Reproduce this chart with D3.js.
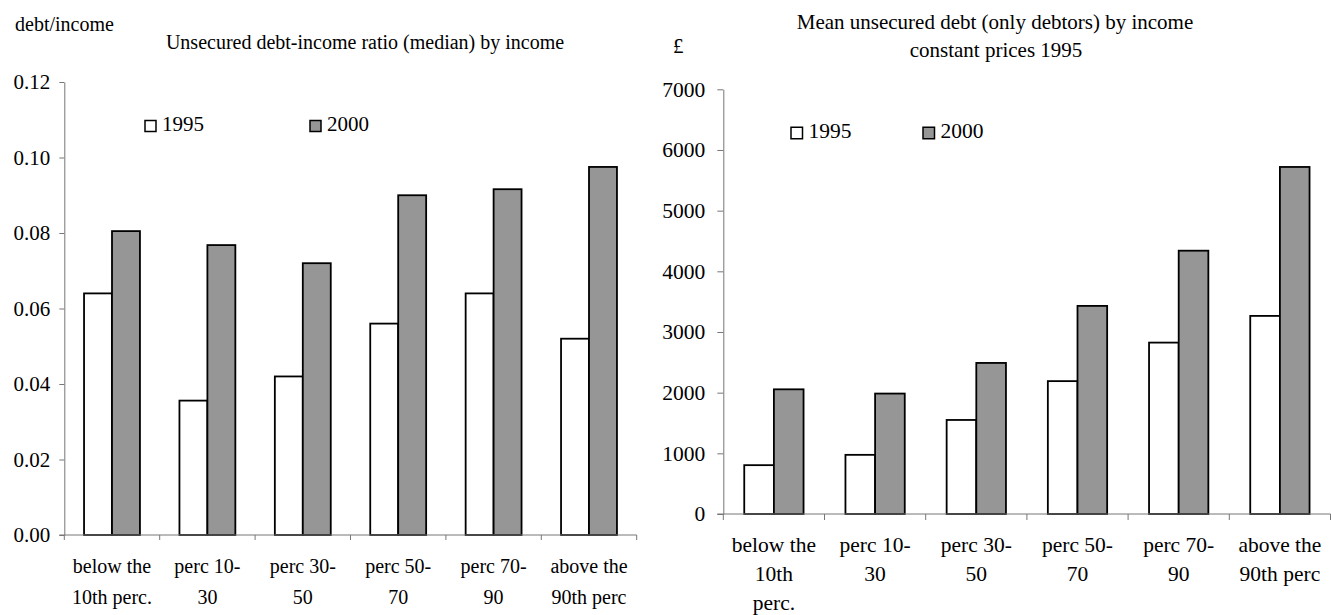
<!DOCTYPE html>
<html>
<head>
<meta charset="utf-8">
<script src="https://cdn.jsdelivr.net/npm/d3@7"></script>
<style>
  html, body { margin: 0; padding: 0; background: #fff; }
  svg { display: block; }
  text { font-family: "Liberation Serif", "Times New Roman", serif; fill: #000; }
</style>
</head>
<body>
<svg id="chart" width="1331" height="615"></svg>
<script>
// ---------- data ----------
const categories = ["below the 10th perc.", "perc 10-30", "perc 30-50", "perc 50-70", "perc 70-90", "above the 90th perc"];
const labelsLeft = [["below the", "10th perc."], ["perc 10-", "30"], ["perc 30-", "50"], ["perc 50-", "70"], ["perc 70-", "90"], ["above the", "90th perc"]];
const labelsRight = [["below the", "10th", "perc."], ["perc 10-", "30"], ["perc 30-", "50"], ["perc 50-", "70"], ["perc 70-", "90"], ["above the", "90th perc"]];
const seriesNames = ["1995", "2000"];
const ratio1995 = [0.064, 0.0356, 0.042, 0.056, 0.064, 0.052];
const ratio2000 = [0.0805, 0.0768, 0.072, 0.090, 0.0916, 0.0975];
const debt1995 = [805, 975, 1550, 2190, 2825, 3265];
const debt2000 = [2055, 1985, 2490, 3430, 4340, 5720];
const ratioTicks = [0, 0.02, 0.04, 0.06, 0.08, 0.10, 0.12];
const debtTicks = [0, 1000, 2000, 3000, 4000, 5000, 6000, 7000];
const fills = ["#ffffff", "#969696"];

const svg = d3.select("#chart");

function drawPanel(cfg) {
  const g = svg.append("g");
  const x0 = d3.scaleBand().domain(categories).range([cfg.x0, cfg.x1]).padding(0);
  const x1 = d3.scaleBand().domain(seriesNames)
    .range([x0.bandwidth() * 0.207, x0.bandwidth() * 0.793]).padding(0);
  const y = d3.scaleLinear().domain([0, cfg.yMax]).range([cfg.yBottom, cfg.yTop]);

  // y axis
  const yAxis = d3.axisLeft(y).tickValues(cfg.ticks).tickFormat(cfg.fmt)
    .tickSize(cfg.tickLen).tickSizeOuter(0).tickPadding(cfg.tickPad);
  const ya = g.append("g").attr("transform", `translate(${cfg.x0},0)`).call(yAxis);
  ya.attr("font-family", null);
  ya.select(".domain").attr("stroke", "#777");
  ya.selectAll(".tick line").attr("stroke", "#777");
  ya.selectAll(".tick text")
    .style("font-family", '"Liberation Serif", "Times New Roman", serif')
    .attr("font-size", cfg.tickFont).attr("fill", "#000");

  // bars
  const data = categories.map((c, i) => ({ c, vals: [cfg.s1[i], cfg.s2[i]] }));
  const grp = g.selectAll(".grp").data(data).join("g")
    .attr("transform", d => `translate(${x0(d.c)},0)`);
  grp.selectAll("rect").data(d => d.vals.map((v, k) => ({ k, v }))).join("rect")
    .attr("x", d => x1(seriesNames[d.k]))
    .attr("width", x1.bandwidth())
    .attr("y", d => y(d.v))
    .attr("height", d => y(0) - y(d.v))
    .attr("fill", d => fills[d.k])
    .attr("stroke", "#000")
    .attr("stroke-width", 1.8);

  // x axis
  g.append("line").attr("x1", cfg.x0 - cfg.tickLen).attr("x2", cfg.x1)
    .attr("y1", y(0)).attr("y2", y(0)).attr("stroke", "#777");
  const bounds = categories.map(c => x0(c)).concat([cfg.x1]);
  g.selectAll(".xt").data(bounds).join("line")
    .attr("x1", d => d).attr("x2", d => d)
    .attr("y1", y(0)).attr("y2", y(0) + cfg.tickLen).attr("stroke", "#777");

  // category labels
  const lab = g.selectAll(".lab").data(cfg.labels).join("text")
    .attr("text-anchor", "middle")
    .attr("font-size", cfg.catFont);
  lab.each(function (lines, i) {
    const cx = x0(categories[i]) + x0.bandwidth() / 2;
    d3.select(this).selectAll("tspan").data(lines).join("tspan")
      .attr("x", cx)
      .attr("y", (d, j) => cfg.labelY + j * cfg.lineH)
      .text(d => d);
  });

  // legend
  seriesNames.forEach((s, k) => {
    g.append("rect").attr("x", cfg.legX[k]).attr("y", cfg.legY - cfg.legBox / 2 - 5)
      .attr("width", cfg.legBox).attr("height", cfg.legBox)
      .attr("fill", fills[k]).attr("stroke", "#000").attr("stroke-width", 1.5);
    g.append("text").attr("x", cfg.legX[k] + cfg.legBox + 6).attr("y", cfg.legY)
      .attr("font-size", cfg.legFont).text(s);
  });
  return g;
}

const L = drawPanel({
  x0: 64.3, x1: 636.7, yBottom: 535, yTop: 82, yMax: 0.12,
  ticks: ratioTicks, fmt: d3.format(".2f"), tickLen: 5, tickPad: 9, tickFont: 21,
  s1: ratio1995, s2: ratio2000, labels: labelsLeft, labelY: 573, lineH: 31, catFont: 20,
  legX: [145, 310], legY: 131, legBox: 11, legFont: 21
});
L.append("text").attr("x", 15).attr("y", 31).attr("font-size", 20).text("debt/income");
L.append("text").attr("x", 365).attr("y", 49).attr("text-anchor", "middle")
  .attr("font-size", 20).text("Unsecured debt-income ratio (median)  by income");

const R = drawPanel({
  x0: 723.3, x1: 1330.5, yBottom: 514, yTop: 89.3, yMax: 7000,
  ticks: debtTicks, fmt: d3.format("d"), tickLen: 6, tickPad: 12, tickFont: 21.5,
  s1: debt1995, s2: debt2000, labels: labelsRight, labelY: 552, lineH: 29, catFont: 21.5,
  legX: [791, 923], legY: 138, legBox: 11.5, legFont: 21.5
});
R.append("text").attr("x", 673).attr("y", 53).attr("font-size", 21).text("£");
R.append("text").attr("x", 995).attr("y", 29).attr("text-anchor", "middle")
  .attr("font-size", 21).text("Mean unsecured debt (only debtors) by income");
R.append("text").attr("x", 996).attr("y", 57).attr("text-anchor", "middle")
  .attr("font-size", 21).text("constant prices 1995");
</script>
</body>
</html>
